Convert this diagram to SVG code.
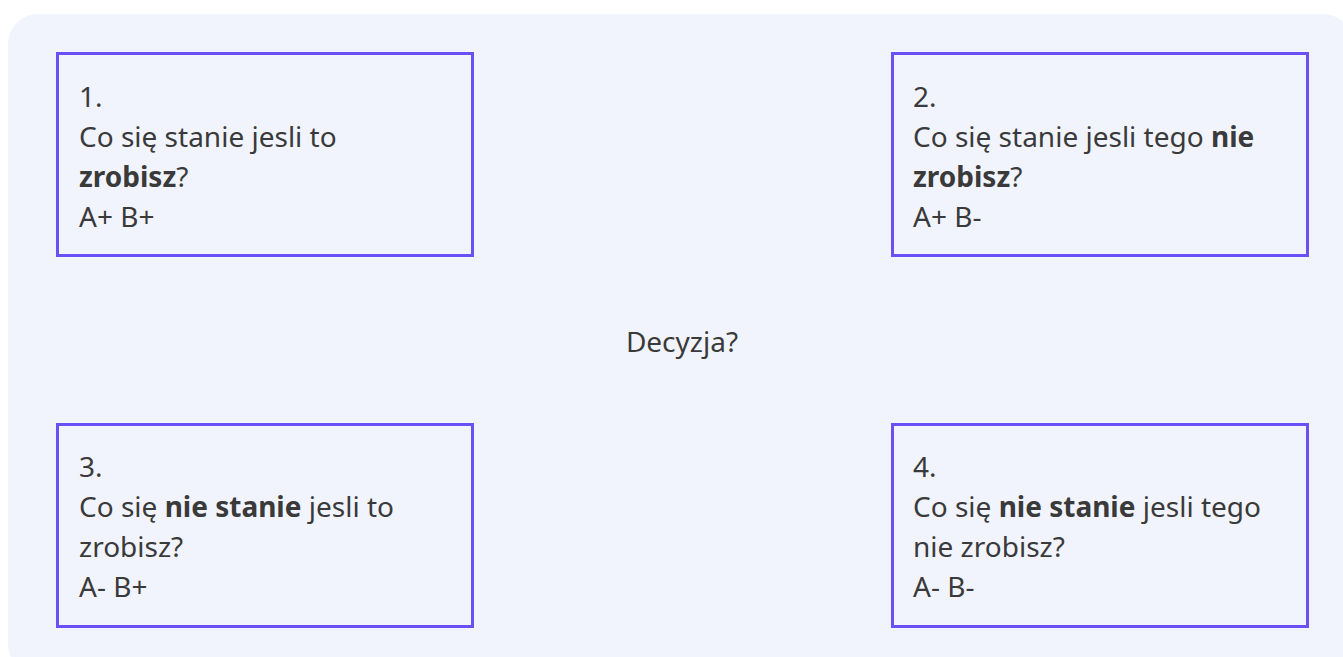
<svg xmlns="http://www.w3.org/2000/svg" width="1343" height="657" viewBox="0 0 1343 657">
<style>
.bg{fill:#f1f4fd}
.box{fill:#f1f4fd;stroke:#6a50f5;stroke-width:3}
text{font-family:"Noto Sans","Open Sans",sans-serif;font-size:28px;fill:#3a3a3a}
.b{font-weight:bold}
</style>
<rect class="bg" x="8" y="14" width="1345" height="660" rx="30"/>
<g id="node1">
<rect class="box" x="57.5" y="53.5" width="415" height="202"/>
<text x="79" y="107">1.</text>
<text x="79" y="147">Co się stanie jesli to</text>
<text x="79" y="187"><tspan class="b">zrobisz</tspan>?</text>
<text x="79" y="227">A+ B+</text>
</g>
<g id="node2">
<rect class="box" x="892.5" y="53.5" width="415" height="202"/>
<text x="913" y="107">2.</text>
<text x="913" y="147">Co się stanie jesli tego <tspan class="b">nie</tspan></text>
<text x="913" y="187"><tspan class="b">zrobisz</tspan>?</text>
<text x="913" y="227">A+ B-</text>
</g>
<g id="center">
<text x="682" y="352" text-anchor="middle">Decyzja?</text>
</g>
<g id="node3">
<rect class="box" x="57.5" y="424.5" width="415" height="202"/>
<text x="79" y="477">3.</text>
<text x="79" y="517">Co się <tspan class="b">nie stanie</tspan> jesli to</text>
<text x="79" y="557">zrobisz?</text>
<text x="79" y="597">A- B+</text>
</g>
<g id="node4">
<rect class="box" x="892.5" y="424.5" width="415" height="202"/>
<text x="913" y="477">4.</text>
<text x="913" y="517">Co się <tspan class="b">nie stanie</tspan> jesli tego</text>
<text x="913" y="557">nie zrobisz?</text>
<text x="913" y="597">A- B-</text>
</g>
<g id="connectors"></g>
</svg>
